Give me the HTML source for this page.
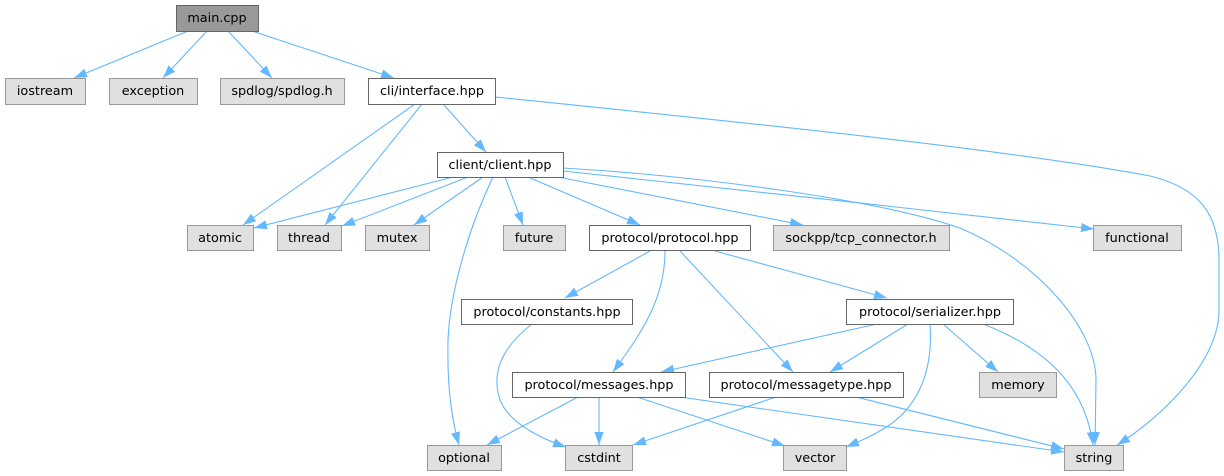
<!DOCTYPE html>
<html><head><meta charset="utf-8"><style>
html,body{margin:0;padding:0;background:#fff;}
svg{display:block;}
text{font-family:"DejaVu Sans","Liberation Sans",sans-serif;font-size:12.8px;fill:#000;text-anchor:middle;}
.g{fill:#e0e0e0;stroke:#999;stroke-width:1;}
.w{fill:#fff;stroke:#666;stroke-width:1;}
.m{fill:#999;stroke:#666;stroke-width:1;}
.e{fill:none;stroke:#63b8ff;stroke-width:1.1;marker-end:url(#ah);}
</style></head><body>
<svg width="1224" height="476" viewBox="0 0 1224 476" xmlns="http://www.w3.org/2000/svg">
<defs>
<marker id="ah" markerUnits="userSpaceOnUse" markerWidth="14" markerHeight="10" refX="13" refY="4.6" orient="auto">
<path d="M0,0 L13,4.6 L0,9.2 z" fill="#63b8ff"/>
</marker>
</defs>
<!-- edges -->
<path class="e" d="M188,31 L74,78"/>
<path class="e" d="M207,31 L163,78"/>
<path class="e" d="M228,31 L272,78"/>
<path class="e" d="M252,31 L394,78"/>
<path class="e" d="M495,97 C720,120 1000,148 1150,176 C1200,188 1219,215 1219,260 L1219,310 C1219,360 1165,415 1117,445"/>
<path class="e" d="M415,104 L243,225"/>
<path class="e" d="M422,104 L325,225"/>
<path class="e" d="M443,104 L486,152"/>
<path class="e" d="M453,177 L254,228"/>
<path class="e" d="M468,177 L342,226"/>
<path class="e" d="M483,177 L414,225"/>
<path class="e" d="M493,177 C470,225 450,290 448,340 C447,390 452,420 459,445"/>
<path class="e" d="M505,177 L523,225"/>
<path class="e" d="M528,177 L640,225"/>
<path class="e" d="M558,177 L803,225"/>
<path class="e" d="M563,171 C700,185 950,213 1094,229"/>
<path class="e" d="M563,168 C700,176 880,200 960,228 C1040,262 1096,330 1096,380 L1095,445"/>
<path class="e" d="M650,251 L565,298"/>
<path class="e" d="M665,251 C665,300 640,335 613,372"/>
<path class="e" d="M680,251 L793,372"/>
<path class="e" d="M715,251 L887,298"/>
<path class="e" d="M532,324 C505,345 490,370 500,400 C510,425 545,440 566,447"/>
<path class="e" d="M877,324 L661,372"/>
<path class="e" d="M908,324 L830,372"/>
<path class="e" d="M930,324 C933,365 922,405 885,428 C870,437 858,442 846,447"/>
<path class="e" d="M943,324 L998,372"/>
<path class="e" d="M983,324 C1045,348 1085,385 1093,445"/>
<path class="e" d="M578,397 L487,445"/>
<path class="e" d="M599,397 L599,445"/>
<path class="e" d="M637,397 L785,446"/>
<path class="e" d="M680,397 L1064,452"/>
<path class="e" d="M776,397 L633,445"/>
<path class="e" d="M856,397 L1064,449"/>
<!-- nodes -->
<rect class="m" x="176.5" y="5.5" width="82" height="26"/><text x="217" y="22">main.cpp</text>
<rect class="g" x="5.5" y="78.5" width="80" height="26"/><text x="45" y="95">iostream</text>
<rect class="g" x="109.5" y="78.5" width="88" height="26"/><text x="153" y="95">exception</text>
<rect class="g" x="220.5" y="78.5" width="124" height="26"/><text x="282" y="95">spdlog/spdlog.h</text>
<rect class="w" x="368.5" y="78.5" width="127" height="26"/><text x="432" y="95">cli/interface.hpp</text>
<rect class="w" x="437.5" y="152.5" width="126" height="25"/><text x="500" y="169">client/client.hpp</text>
<rect class="g" x="187.5" y="225.5" width="66" height="25"/><text x="220" y="242">atomic</text>
<rect class="g" x="277.5" y="225.5" width="64" height="25"/><text x="309" y="242">thread</text>
<rect class="g" x="365.5" y="225.5" width="64" height="25"/><text x="397" y="242">mutex</text>
<rect class="g" x="503.5" y="225.5" width="62" height="25"/><text x="534" y="242">future</text>
<rect class="w" x="589.5" y="225.5" width="161" height="25"/><text x="670" y="242">protocol/protocol.hpp</text>
<rect class="g" x="773.5" y="225.5" width="176" height="25"/><text x="861" y="242">sockpp/tcp_connector.h</text>
<rect class="g" x="1093.5" y="225.5" width="88" height="25"/><text x="1137" y="242">functional</text>
<rect class="w" x="461.5" y="299.5" width="171" height="25"/><text x="547" y="316">protocol/constants.hpp</text>
<rect class="w" x="846.5" y="299.5" width="167" height="25"/><text x="930" y="316">protocol/serializer.hpp</text>
<rect class="w" x="512.5" y="372.5" width="173" height="25"/><text x="599" y="389">protocol/messages.hpp</text>
<rect class="w" x="709.5" y="372.5" width="194" height="25"/><text x="806" y="389">protocol/messagetype.hpp</text>
<rect class="g" x="979.5" y="372.5" width="77" height="25"/><text x="1018" y="389">memory</text>
<rect class="g" x="427.5" y="445.5" width="74" height="25"/><text x="464" y="462">optional</text>
<rect class="g" x="565.5" y="445.5" width="67" height="25"/><text x="599" y="462">cstdint</text>
<rect class="g" x="783.5" y="445.5" width="63" height="25"/><text x="815" y="462">vector</text>
<rect class="g" x="1064.5" y="445.5" width="59" height="25"/><text x="1094" y="462">string</text>
</svg>
</body></html>
